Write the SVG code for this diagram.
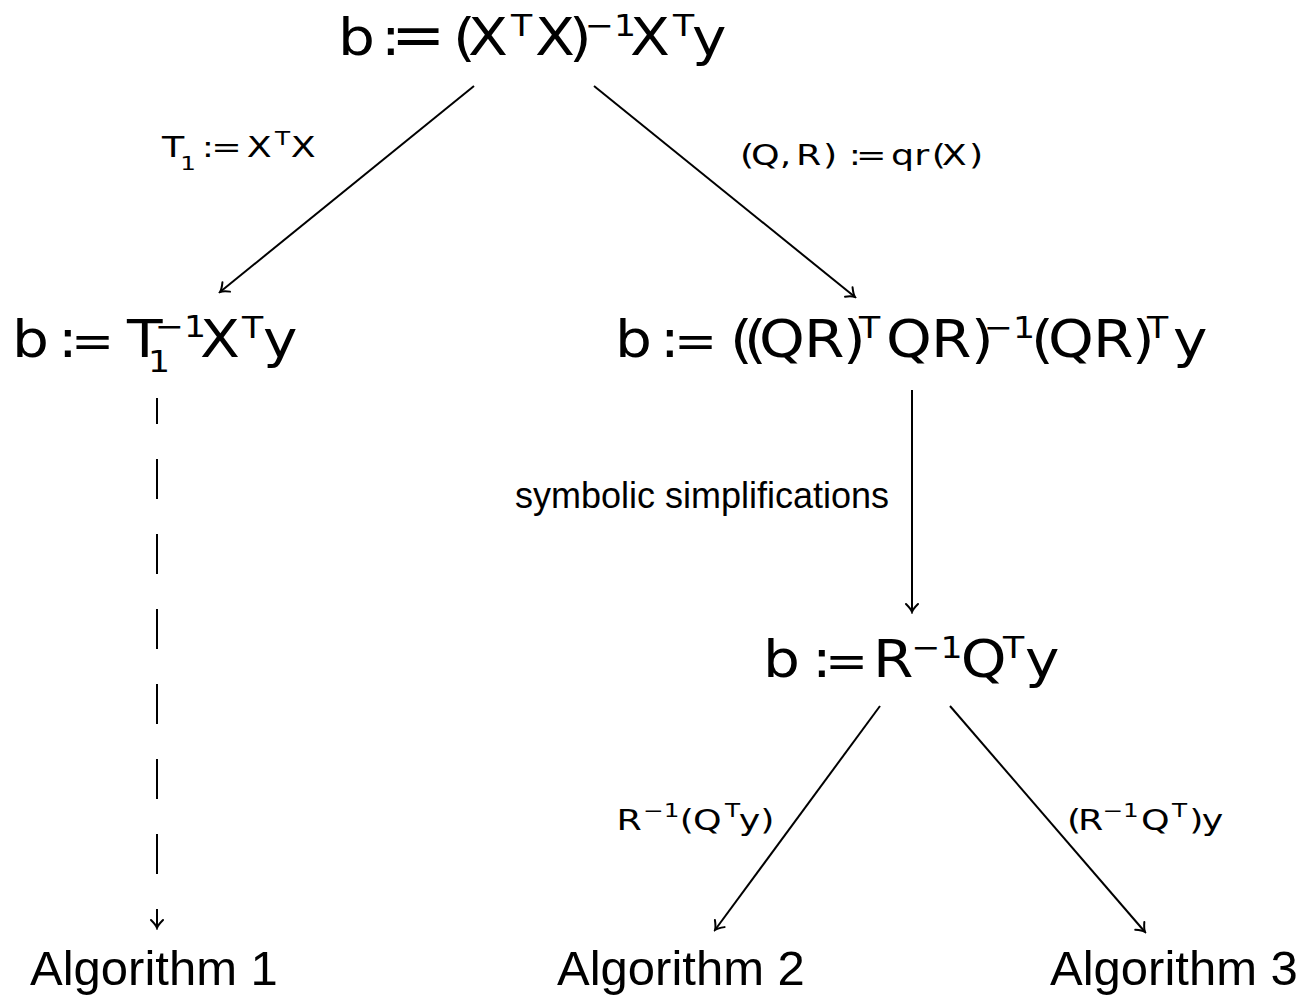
<svg xmlns="http://www.w3.org/2000/svg" width="1316" height="995" viewBox="0 0 1316 995">
<style>
.m{font-family:"DejaVu Sans","Noto Sans",sans-serif;fill:#000}
.big{font-size:52px}
.eq{font-size:58px}
.eq2{font-size:46px}
.sup{font-size:31px}
.sm{font-size:28px}
.ssup{font-size:19px}
.t{font-family:"Liberation Sans",Arial,sans-serif;fill:#000}
.edge{stroke:#000;stroke-width:2;fill:none}
</style>
<defs>
<marker id="ah" viewBox="-10 -8 12 16" refX="0" refY="0" markerWidth="12" markerHeight="16" markerUnits="userSpaceOnUse" orient="auto">
<path d="M-8,-6 Q-3,-1 0,0 Q-3,1 -8,6" stroke="#000" stroke-width="2" fill="none" stroke-linecap="round"/>
</marker>
</defs>
<rect width="1316" height="995" fill="#fff"/>
<g id="connectors">
<line class="edge" x1="474" y1="86" x2="220" y2="292" marker-end="url(#ah)"/>
<line class="edge" x1="594" y1="86" x2="855" y2="297" marker-end="url(#ah)"/>
<line class="edge" x1="157" y1="398" x2="157" y2="928" stroke-dasharray="40 35" stroke-dashoffset="14" marker-end="url(#ah)"/>
<line class="edge" x1="912" y1="390" x2="912" y2="612" marker-end="url(#ah)"/>
<line class="edge" x1="880" y1="706" x2="715" y2="930" marker-end="url(#ah)"/>
<line class="edge" x1="950" y1="706" x2="1145" y2="932" marker-end="url(#ah)"/>
<text class="m sm" y="157" transform="matrix(1.3 0 0 1 -48.6 0)"><tspan x="162">T</tspan><tspan class="ssup" x="176.1" y="170">1</tspan><tspan x="192.6" y="157">:</tspan><tspan x="199.8">=</tspan><tspan x="227.2">X</tspan><tspan class="ssup" x="248.9" y="145">T</tspan><tspan x="261" y="157">X</tspan></text>
<text class="m sm" y="165" transform="matrix(1.3 0 0 1 -222 0)"><tspan x="740">(</tspan><tspan x="748.5">Q</tspan><tspan x="770.5">,</tspan><tspan x="783.1">R</tspan><tspan x="803.8">)</tspan><tspan x="823.7">:</tspan><tspan x="829.3">=</tspan><tspan x="856.2">qr</tspan><tspan x="887.6">(</tspan><tspan x="895.2">X</tspan><tspan x="916.2">)</tspan></text>
<text class="t" x="515" y="508" font-size="36">symbolic simplifications</text>
<text class="m sm" y="830" transform="matrix(1.3 0 0 1 -184.92 0)"><tspan x="616.4">R</tspan><tspan class="ssup" x="636.9" y="817">−1</tspan><tspan x="665.2" y="830">(</tspan><tspan x="675.3">Q</tspan><tspan class="ssup" x="699.9" y="817">T</tspan><tspan x="710.6" y="830">y</tspan><tspan x="727.1">)</tspan></text>
<text class="m sm" y="830" transform="matrix(1.3 0 0 1 -320.07 0)"><tspan x="1066.9">(</tspan><tspan x="1075.4">R</tspan><tspan class="ssup" x="1094.2" y="817">−1</tspan><tspan x="1123.9" y="830">Q</tspan><tspan class="ssup" x="1147.7" y="817">T</tspan><tspan x="1161.1" y="830">)</tspan><tspan x="1170.7">y</tspan></text>
</g>
<g id="n_top">
<text class="m big" y="55" transform="matrix(1.12 0 0 1 -40.56 0)"><tspan x="338">b</tspan><tspan x="376.4">:</tspan><tspan class="eq" x="385.3">=</tspan><tspan x="440.7">(</tspan><tspan x="454.1">X</tspan><tspan class="sup" x="492.5" y="36">T</tspan><tspan x="513.9" y="55">X</tspan><tspan x="544.3">)</tspan><tspan class="sup" x="558.5" y="36">−1</tspan><tspan x="598.7" y="55">X</tspan><tspan class="sup" x="637" y="36">T</tspan><tspan x="654.1" y="55">y</tspan></text>
</g>
<g id="n_left">
<text class="m big" y="357" transform="matrix(1.12 0 0 1 -1.44 0)"><tspan x="12">b</tspan><tspan x="53.1">:</tspan><tspan class="eq2" x="64.7">=</tspan><tspan x="114.7">T</tspan><tspan class="sup" x="133.4" y="372">1</tspan><tspan class="sup" x="139.7" y="337">−1</tspan><tspan x="179.9" y="357">X</tspan><tspan class="sup" x="217.4" y="338">T</tspan><tspan x="236.1" y="357">y</tspan></text>
</g>
<g id="n_right">
<text class="m big" y="357" transform="matrix(1.12 0 0 1 -73.8 0)"><tspan x="615">b</tspan><tspan x="655.2">:</tspan><tspan class="eq2" x="667.7">=</tspan><tspan x="717.7">(</tspan><tspan x="730.2">(</tspan><tspan x="743.6">Q</tspan><tspan x="783.8">R</tspan><tspan x="818.6">)</tspan><tspan class="sup" x="832.9" y="338">T</tspan><tspan x="857" y="357">Q</tspan><tspan x="897.1">R</tspan><tspan x="932.9">)</tspan><tspan class="sup" x="944.5" y="338">−1</tspan><tspan x="986.4" y="357">(</tspan><tspan x="1001.6">Q</tspan><tspan x="1041.8">R</tspan><tspan x="1076.6">)</tspan><tspan class="sup" x="1090" y="338">T</tspan><tspan x="1113.2" y="357">y</tspan></text>
</g>
<g id="n_mid">
<text class="m big" y="677" transform="matrix(1.12 0 0 1 -91.56 0)"><tspan x="763">b</tspan><tspan x="806.75">:</tspan><tspan class="eq2" x="818.4">=</tspan><tspan x="861.2">R</tspan><tspan class="sup" x="895.5" y="658">−1</tspan><tspan x="939.5" y="677">Q</tspan><tspan class="sup" x="977.3" y="658">T</tspan><tspan x="996.9" y="677">y</tspan></text>
</g>
<g id="n_alg1"><text class="t" x="30" y="985" font-size="49">Algorithm 1</text></g>
<g id="n_alg2"><text class="t" x="557" y="985" font-size="49">Algorithm 2</text></g>
<g id="n_alg3"><text class="t" x="1050" y="985" font-size="49">Algorithm 3</text></g>
</svg>
